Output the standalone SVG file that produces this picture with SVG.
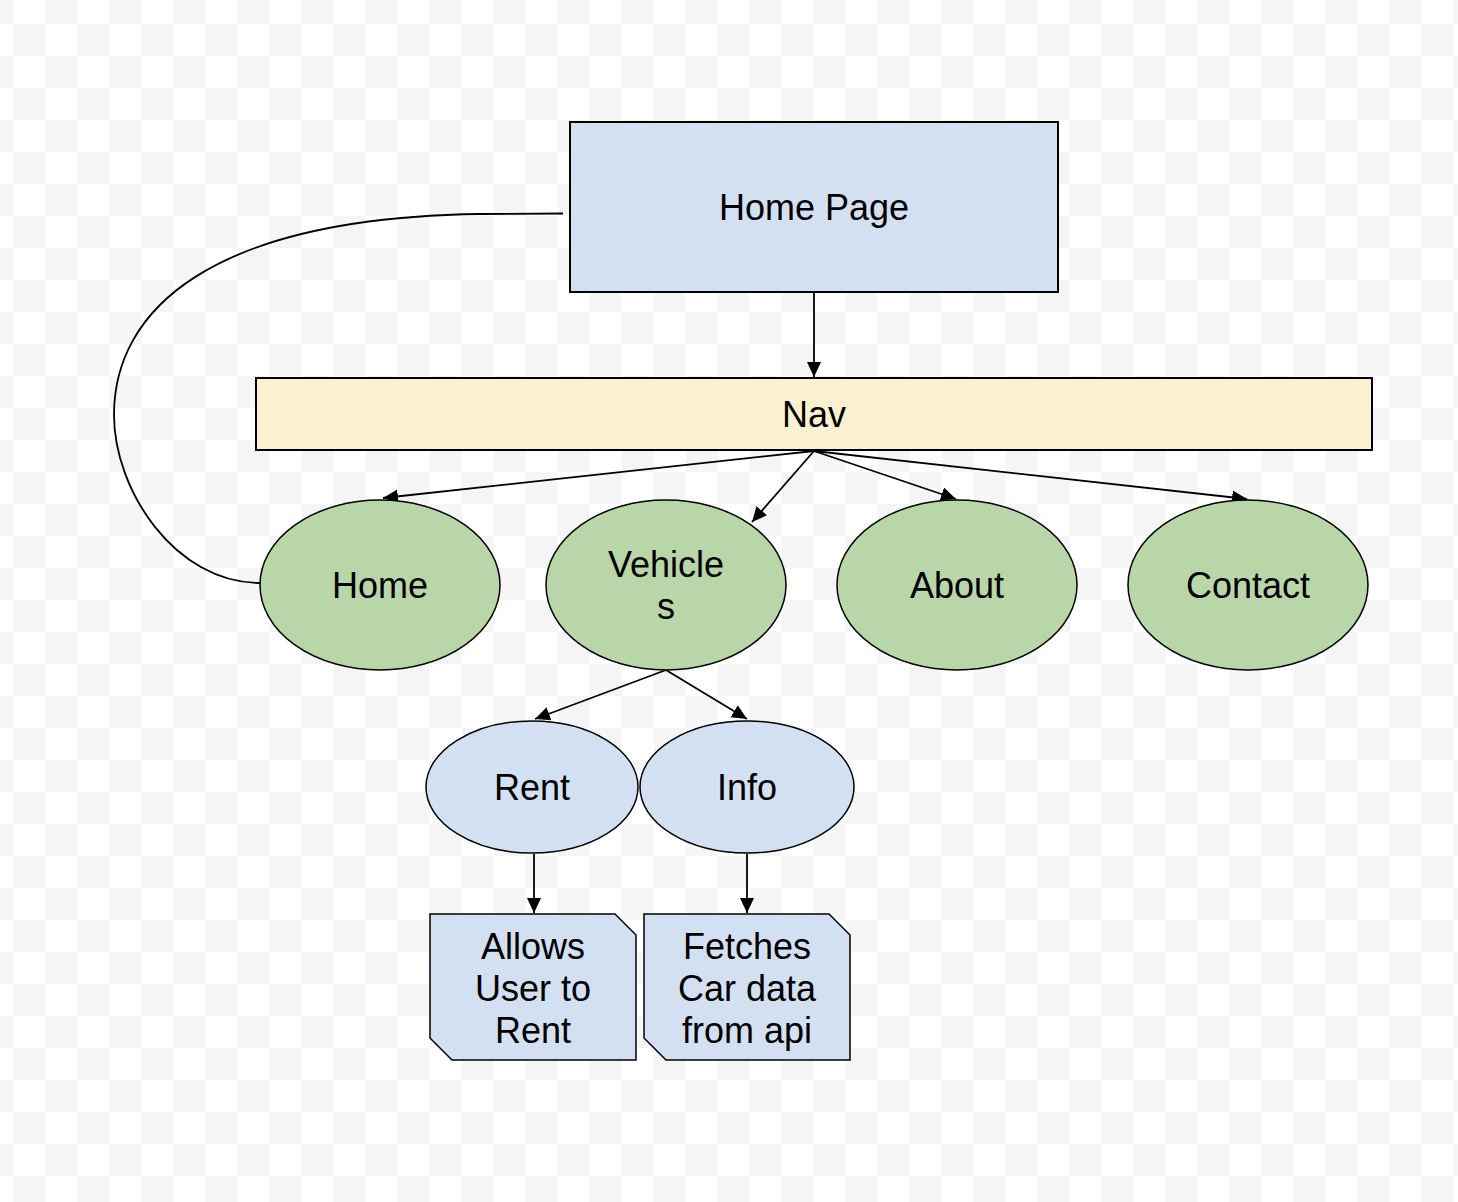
<svg xmlns="http://www.w3.org/2000/svg" width="1458" height="1202" viewBox="0 0 1458 1202">
<defs>
<pattern id="checker" x="-18" y="-8" width="64" height="64" patternUnits="userSpaceOnUse">
<rect x="0" y="0" width="64" height="64" fill="#ffffff"/>
<rect x="0" y="0" width="32" height="32" fill="#f5f5f5"/>
<rect x="32" y="32" width="32" height="32" fill="#f5f5f5"/>
</pattern>
<marker id="arrow" markerUnits="userSpaceOnUse" markerWidth="16" markerHeight="16" refX="15" refY="7" orient="auto">
<path d="M0,0 L15,7 L0,14 Z" fill="#000"/>
</marker>
<style>
.lbl{font-family:"Liberation Sans",Arial,sans-serif;font-size:36px;fill:#000;text-anchor:middle}
.box{stroke:#000;stroke-width:2}
.ell{stroke:#000;stroke-width:1.5}
.blue{fill:#d3e0f1}
.green{fill:#b9d6a9}
.yellow{fill:#fbf1d0}
.conn{fill:none;stroke:#000;stroke-width:1.8}
</style>
</defs>
<rect x="0" y="0" width="1458" height="1202" fill="url(#checker)"/>

<g id="connectors">
<path class="conn" d="M563,213.5 L480,214 C210,218 114,310 114,415 C114,490 175,583 260,583"/>
<line class="conn" x1="814" y1="292" x2="814" y2="377" marker-end="url(#arrow)"/>
<line class="conn" x1="814" y1="451" x2="383" y2="498" marker-end="url(#arrow)"/>
<line class="conn" x1="814" y1="451" x2="752" y2="522" marker-end="url(#arrow)"/>
<line class="conn" x1="814" y1="451" x2="956" y2="499" marker-end="url(#arrow)"/>
<line class="conn" x1="814" y1="451" x2="1247" y2="499" marker-end="url(#arrow)"/>
<line class="conn" x1="666" y1="670" x2="535" y2="719" marker-end="url(#arrow)"/>
<line class="conn" x1="666" y1="670" x2="747" y2="719" marker-end="url(#arrow)"/>
<line class="conn" x1="534" y1="854" x2="534" y2="913" marker-end="url(#arrow)"/>
<line class="conn" x1="747" y1="854" x2="747" y2="913" marker-end="url(#arrow)"/>
</g>

<g id="home-page">
<rect class="box blue" x="570" y="122" width="488" height="170"/>
<text class="lbl" x="814" y="220">Home Page</text>
</g>
<g id="nav">
<rect class="box yellow" x="256" y="378" width="1116" height="72"/>
<text class="lbl" x="814" y="427">Nav</text>
</g>
<g id="home">
<ellipse class="ell green" cx="380" cy="585" rx="120" ry="85"/>
<text class="lbl" x="380" y="598">Home</text>
</g>
<g id="vehicles">
<ellipse class="ell green" cx="666" cy="585" rx="120" ry="85"/>
<text class="lbl" x="666" y="577">Vehicle</text>
<text class="lbl" x="666" y="619">s</text>
</g>
<g id="about">
<ellipse class="ell green" cx="957" cy="585" rx="120" ry="85"/>
<text class="lbl" x="957" y="598">About</text>
</g>
<g id="contact">
<ellipse class="ell green" cx="1248" cy="585" rx="120" ry="85"/>
<text class="lbl" x="1248" y="598">Contact</text>
</g>
<g id="rent">
<ellipse class="ell blue" cx="532" cy="787" rx="106" ry="66"/>
<text class="lbl" x="532" y="800">Rent</text>
</g>
<g id="info">
<ellipse class="ell blue" cx="747" cy="787" rx="107" ry="66"/>
<text class="lbl" x="747" y="800">Info</text>
</g>
<g id="allows">
<path class="ell blue" d="M430,914 L615,914 L636,935 L636,1060 L452,1060 L430,1038 Z"/>
<text class="lbl" x="533" y="959">Allows</text>
<text class="lbl" x="533" y="1001">User to</text>
<text class="lbl" x="533" y="1043">Rent</text>
</g>
<g id="fetches">
<path class="ell blue" d="M644,914 L829,914 L850,935 L850,1060 L666,1060 L644,1038 Z"/>
<text class="lbl" x="747" y="959">Fetches</text>
<text class="lbl" x="747" y="1001">Car data</text>
<text class="lbl" x="747" y="1043">from api</text>
</g>
</svg>
